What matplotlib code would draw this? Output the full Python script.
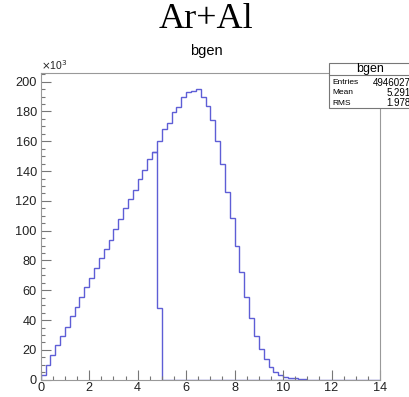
import matplotlib
matplotlib.use('Agg')
import matplotlib.pyplot as plt
import numpy as np
from matplotlib.ticker import MultipleLocator
from matplotlib.patches import Rectangle

# bin contents in units of 10^3, bin width 0.2
low_edges_start = 0.0
low_vals = [3, 10, 16.6, 23, 29, 35.6, 43, 49, 55.7, 62.4, 68.5, 74.8, 81.5, 88,
            94, 101, 108, 115, 121, 127, 135, 141, 148, 153, 48] + [0] * 45
high_edges_start = 4.6
high_vals = [153, 160, 168, 172, 179.5, 183, 190, 193, 193.5, 195, 190, 183.5,
             174, 160, 145, 126, 108.7, 89.7, 72, 55.2, 41.6, 29.3, 20.6, 13.9,
             8.7, 5.4, 3.2, 2.0, 1.3, 0.9, 0.4, 0.2]
bin_w = 0.2

stats_title = 'bgen'
stats_rows = [('Entries', '4946027'), ('Mean', '5.291'), ('RMS', '1.978')]

plt.rcParams['font.family'] = ['Liberation Sans', 'DejaVu Sans']

W, H = 409, 397
fig = plt.figure(figsize=(W / 100, H / 100), dpi=100)
ax = fig.add_axes([40.7 / W, 1 - 379.7 / H, (380 - 40.7) / W, (379.7 - 73.3) / H])

col = '#5e5ed6'
e1 = low_edges_start + bin_w * np.arange(len(low_vals) + 1)
e2 = high_edges_start + bin_w * np.arange(len(high_vals) + 1)
ax.stairs(low_vals, e1, color=col, lw=1.0, baseline=0)
ax.stairs(high_vals, e2, color=col, lw=1.0, baseline=None)

ax.set_xlim(0, 14)
ax.set_ylim(0, 205.6)

ax.xaxis.set_major_locator(MultipleLocator(2))
ax.xaxis.set_minor_locator(MultipleLocator(0.5))
ax.yaxis.set_major_locator(MultipleLocator(20))
ax.yaxis.set_minor_locator(MultipleLocator(5))
ax.tick_params(which='both', direction='in', colors='#777777', labelcolor='#222222',
               labelsize=9.2, top=False, right=False)
ax.tick_params(which='major', length=7, width=0.8)
ax.tick_params(which='minor', length=3, width=0.8)
ax.tick_params(axis='x', pad=1.5)
ax.tick_params(axis='y', pad=2.8)
for s in ax.spines.values():
    s.set_color('#999999')
    s.set_linewidth(0.8)

ax.text(0, 1.005, r'$\times$10$^3$', transform=ax.transAxes, fontsize=7.5,
        color='#222222', ha='left', va='bottom')

fig.text(206 / W, 1 - 20 / H, 'Ar+Al', family='Liberation Serif', fontsize=26,
         ha='center', va='center')
fig.text(206 / W, 1 - 51 / H, 'bgen', fontsize=10.5, ha='center', va='center')

# stats box
bx0, bx1, by0, by1 = 329, 412, 62.7, 108.3
fig.patches.append(Rectangle((bx0 / W, 1 - by1 / H), (bx1 - bx0) / W, (by1 - by0) / H,
                             transform=fig.transFigure, facecolor='white',
                             edgecolor='#777777', lw=0.8))
fig.lines.append(plt.Line2D([bx0 / W, bx1 / W], [1 - 75 / H, 1 - 75 / H],
                            transform=fig.transFigure, color='#777777', lw=0.8))
fig.text((bx0 + 41) / W, 1 - 69 / H, stats_title, fontsize=9,
         ha='center', va='center')
for i, (k, v) in enumerate(stats_rows):
    yy = 1 - (82.5 + i * 10.5) / H
    fig.text((bx0 + 3) / W, yy, k, fontsize=6, ha='left', va='center')
    fig.text(410.5 / W, yy, v, fontsize=7, ha='right', va='center')

fig.savefig('out.png', dpi=100)
